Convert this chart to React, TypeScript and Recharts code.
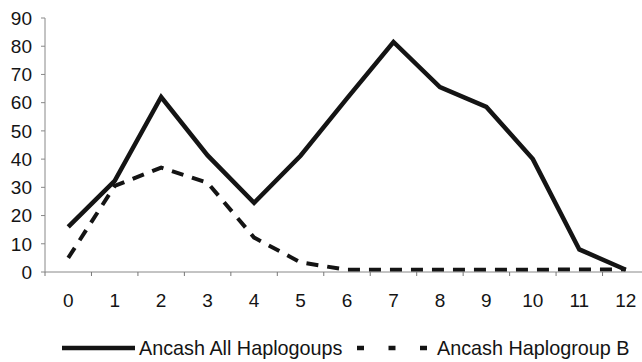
import React from 'react';
import { LineChart, Line, XAxis, YAxis, Legend } from 'recharts';

const CATEGORIES = [0, 1, 2, 3, 4, 5, 6, 7, 8, 9, 10, 11, 12];
const ALL_HAPLOGROUPS = [16, 32.3, 62, 41.3, 24.5, 41.2, 61.5, 81.5, 65.5, 58.5, 40, 8, 0.8];
const HAPLOGROUP_B = [5, 30.5, 37, 31.6, 12.2, 3.4, 0.8, 0.8, 0.8, 0.8, 0.8, 0.9, 0.9];
const Y_TICKS = [0, 10, 20, 30, 40, 50, 60, 70, 80, 90];

const SERIES_NAMES = ['Ancash All Haplogoups', 'Ancash Haplogroup B'];

const FONT = '"Liberation Sans", Arial, sans-serif';
const INK = '#141414';

const CHART_W = 660;
const CHART_H = 362;
const MARGIN = { top: 18, right: 11, left: 0, bottom: 14 };
const Y_AXIS_W = 45;
const HALF_BAND = (CHART_W - MARGIN.right - MARGIN.left - Y_AXIS_W) / CATEGORIES.length / 2;

const data = CATEGORIES.map((c, i) => ({
  x: c,
  all: ALL_HAPLOGROUPS[i],
  b: HAPLOGROUP_B[i],
}));

const XTick = (props: any) => {
  const { x, y, payload } = props;
  const axisY = y - 21.5;
  return (
    <g>
      <line x1={x - HALF_BAND} x2={x - HALF_BAND} y1={axisY} y2={axisY + 4} stroke="#777" strokeWidth={1} />
      <text x={x} y={y} dy="0.71em" textAnchor="middle" fontSize={19} fontFamily={FONT} fill={INK}>
        {payload.value}
      </text>
    </g>
  );
};

const LegendContent = () => (
  <svg width={642} height={36}>
    <line x1={62} x2={135} y1={18} y2={18} stroke={INK} strokeWidth={4.5} />
    <text x={139} y={18} dy="0.35em" fontSize={19.8} fontFamily={FONT} fill={INK}>
      {SERIES_NAMES[0]}
    </text>
    <line x1={357} x2={427} y1={18} y2={18} stroke={INK} strokeWidth={4.5} strokeDasharray="7 24.5" />
    <text x={437} y={18} dy="0.35em" fontSize={19.8} fontFamily={FONT} fill={INK}>
      {SERIES_NAMES[1]}
    </text>
  </svg>
);

export default function App() {
  return (
    <div style={{ position: 'absolute', left: 0, top: 0, width: 642, height: 362, overflow: 'hidden', background: '#fff' }}>
      <LineChart width={CHART_W} height={CHART_H} data={data} margin={MARGIN}>
        <XAxis
          dataKey="x"
          type="number"
          domain={[-0.5, 12.5]}
          ticks={CATEGORIES}
          interval={0}
          height={40}
          axisLine={{ stroke: '#888', strokeWidth: 1 }}
          tickLine={false}
          tickSize={0}
          tickMargin={21.5}
          tick={<XTick />}
        />
        <YAxis
          domain={[0, 90]}
          ticks={Y_TICKS}
          interval={0}
          width={Y_AXIS_W}
          axisLine={{ stroke: '#888', strokeWidth: 1 }}
          tickLine={{ stroke: '#888', strokeWidth: 1 }}
          tickSize={4}
          tickMargin={9}
          tick={{ fontSize: 19, fontFamily: FONT, fill: INK }}
        />
        <Legend
          verticalAlign="bottom"
          content={<LegendContent />}
          wrapperStyle={{ height: 36, width: 642, left: 0, top: 330, bottom: 'auto' }}
        />
        <Line
          dataKey="all"
          name={SERIES_NAMES[0]}
          type="linear"
          stroke={INK}
          strokeWidth={4.5}
          dot={false}
          isAnimationActive={false}
        />
        <Line
          dataKey="b"
          name={SERIES_NAMES[1]}
          type="linear"
          stroke={INK}
          strokeWidth={4}
          strokeDasharray="12 9"
          dot={false}
          isAnimationActive={false}
        />
      </LineChart>
    </div>
  );
}
